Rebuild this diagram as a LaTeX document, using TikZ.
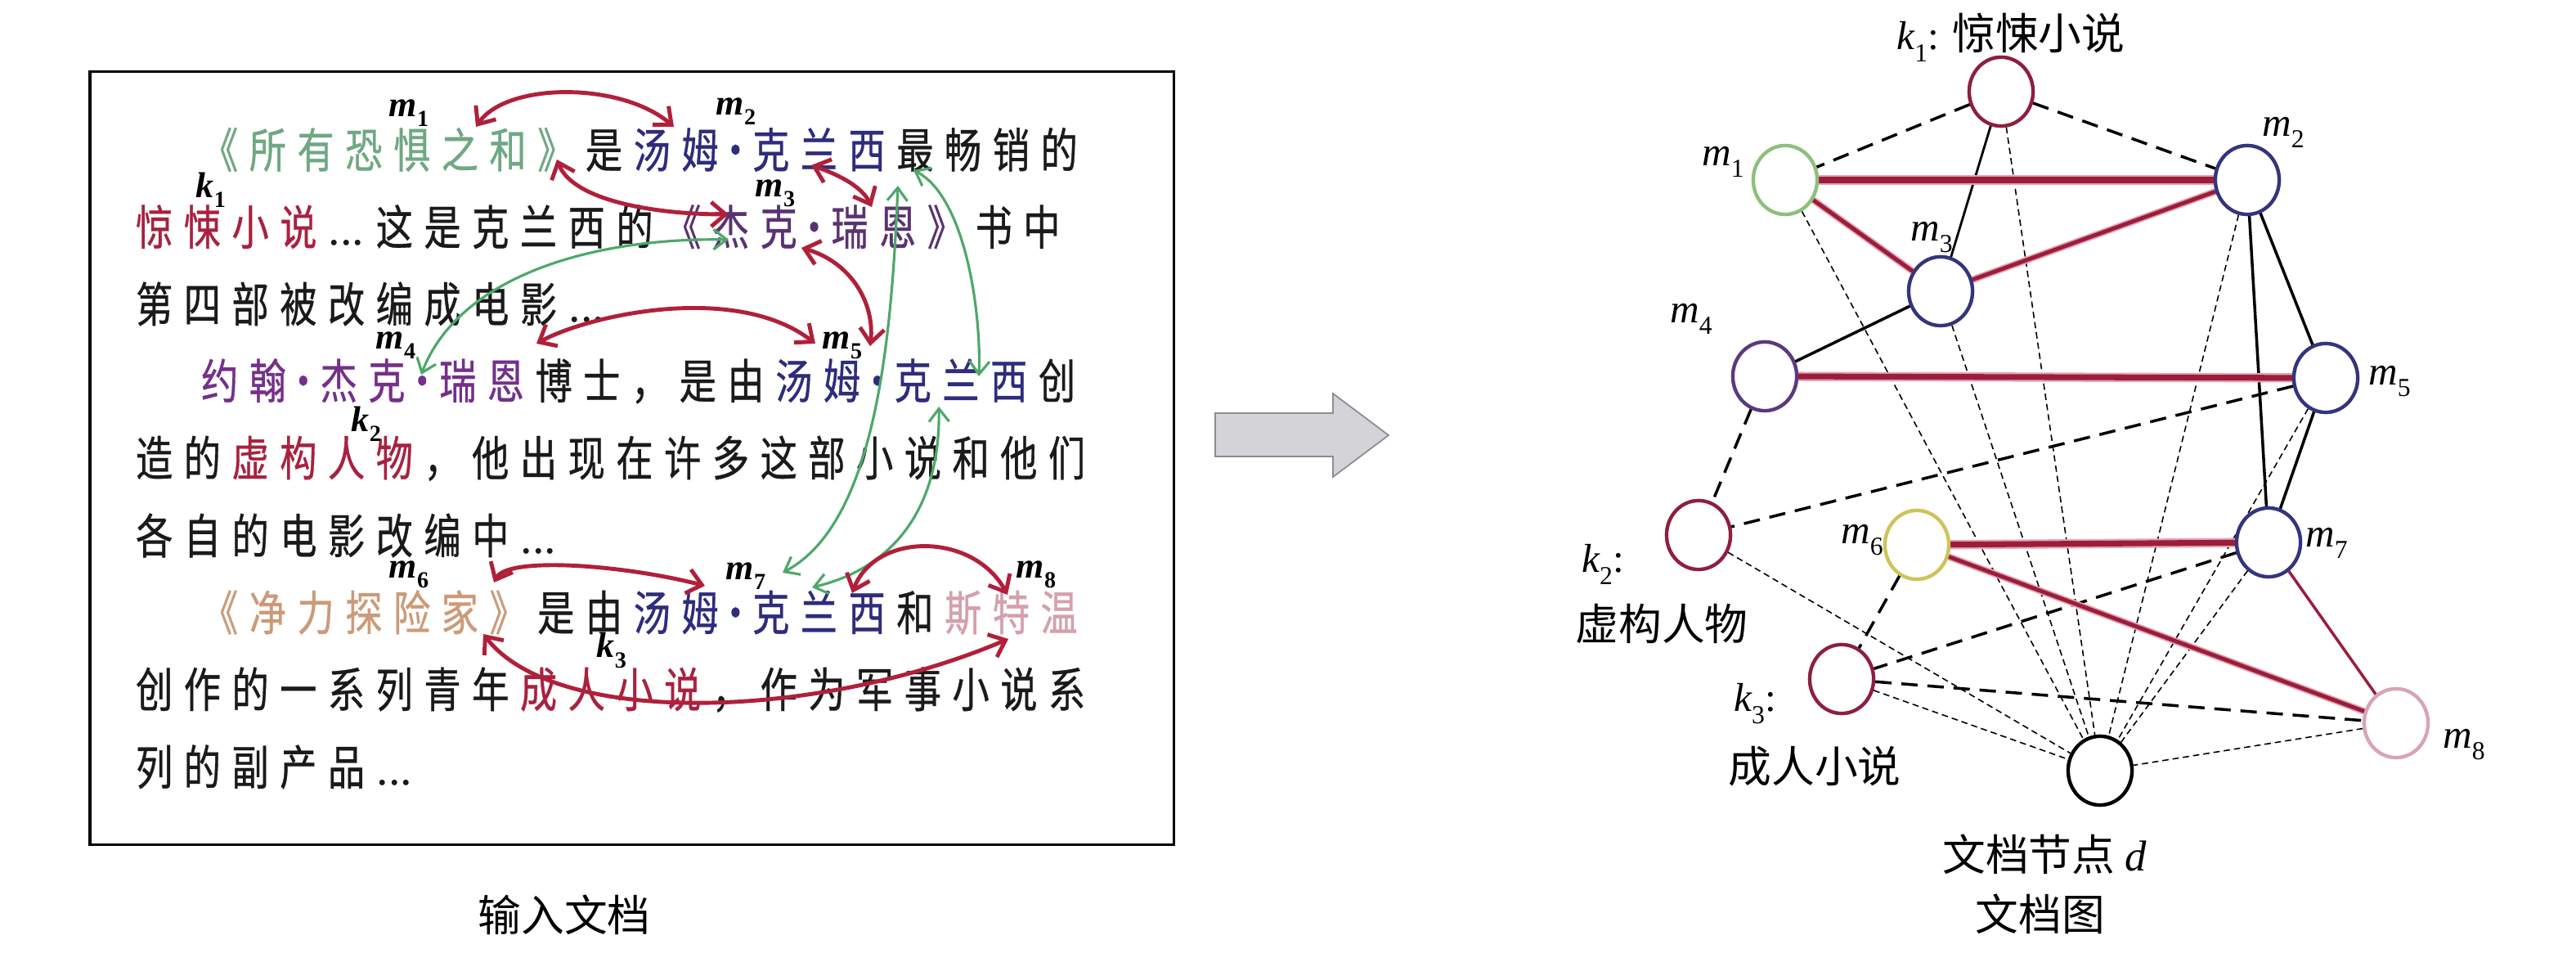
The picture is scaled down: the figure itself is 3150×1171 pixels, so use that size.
\documentclass[tikz,border=0pt]{standalone}
\usepackage{fontspec}
\usetikzlibrary{arrows.meta,shapes.geometric}
\setmainfont{Liberation Serif}
\newfontfamily\cjk[FakeStretch=0.78,FakeBold=0.6]{Noto Sans CJK SC}
\newfontfamily\cjkr{Noto Sans CJK SC}
\definecolor{tgreen}{HTML}{6FA882}
\definecolor{tnavy}{HTML}{2E2C7C}
\definecolor{tred}{HTML}{A8223F}
\definecolor{tpurp}{HTML}{5A3272}
\definecolor{tpurp2}{HTML}{74308A}
\definecolor{torange}{HTML}{CC9A78}
\definecolor{tpink}{HTML}{D4A0AC}
\definecolor{tblack}{HTML}{1A1A1A}
\definecolor{arred}{HTML}{B0203A}
\definecolor{argreen}{HTML}{4EA86A}
\definecolor{edgered}{HTML}{9A1E3C}
\definecolor{edgeglow}{HTML}{E8A0B0}
\definecolor{cred}{HTML}{8E1F3E}
\definecolor{cgreen}{HTML}{8CC07C}
\definecolor{cnavy}{HTML}{34347E}
\definecolor{cpurple}{HTML}{5A3A7E}
\definecolor{cyellow}{HTML}{CCC45A}
\definecolor{cpink}{HTML}{D8A4B4}
\definecolor{agray}{HTML}{D4D4D8}
\definecolor{agrayd}{HTML}{8C8C92}
\newlength\pitch \setlength\pitch{0.587cm}
\newlength\dotw \setlength\dotw{0.28cm}
\makeatletter
\def\gdot{·}
\def\gell{…}
\def\gridchar{\ifx\gx\gdot\makebox[\dotw]{·}\else\ifx\gx\gell\makebox[\pitch]{\rmfamily ...}\else\makebox[\pitch]{\gx}\fi\fi}
\newcommand\gt[1]{\@tfor\gx:=#1\do{\gridchar}}
\makeatother
\newcommand\lbl[2]{{\bfseries\itshape #1}\raisebox{-0.28em}{\fontsize{8}{8}\selectfont\bfseries #2}}
\newcommand\rl[2]{{\itshape #1}\raisebox{-0.3em}{\fontsize{9}{9}\selectfont #2}}
\begin{document}
\begin{tikzpicture}[x=0.01cm,y=-0.01cm,
  txt/.style={anchor=west,inner sep=0pt,text=tblack,font=\cjk\fontsize{16.5}{17}\selectfont},
  lab/.style={inner sep=0pt,font=\fontsize{12.5}{13}\selectfont},
  rarr/.style={draw=arred,line width=1.4pt,{Straight Barb[length=5pt,width=8.5pt]}-{Straight Barb[length=5pt,width=8.5pt]}},
  garr/.style={draw=argreen,line width=0.9pt,{Straight Barb[length=4.5pt,width=7pt]}-{Straight Barb[length=4.5pt,width=7pt]}},
  gnode/.style={ellipse,draw,line width=1.2pt,fill=white,minimum width=0.78cm,minimum height=0.84cm,inner sep=0pt},
  glab/.style={inner sep=0pt,font=\fontsize{14}{14}\selectfont},
  clab/.style={inner sep=0pt,font=\cjkr\fontsize{15}{16}\selectfont},
  redthick/.style={preaction={draw=edgeglow,line width=3.2pt},draw=edgered,line width=2pt},
  redmed/.style={preaction={draw=edgeglow,line width=2.4pt},draw=edgered,line width=1.4pt},
  redthin/.style={draw=edgered,line width=1pt},
  blk/.style={draw=black,line width=1pt},
  ldash/.style={draw=black,line width=1pt,dash pattern=on 5.7pt off 3.4pt},
  sdash/.style={draw=black,line width=0.45pt,dash pattern=on 2.2pt off 1.4pt}]
\path[use as bounding box] (0,0) rectangle (3150,1171);

% ---------- left: input document ----------
\node[draw=black,line width=1pt,minimum width=13.25cm,minimum height=9.44cm,anchor=north west,inner sep=0pt] (box) at (108,86) {};

\node[txt] (l1) at (238.6,183) {{\color{tgreen}\gt{《所有恐惧之和》}}\gt{是}{\color{tnavy}\gt{汤姆·克兰西}}\gt{最畅销的}};
\node[txt] (l2) at (158.6,277.3) {{\color{tred}\gt{惊悚小说}}\gt{…这是克兰西的}{\color{tpurp}\gt{《杰克·瑞恩》}}\gt{书中}};
\node[txt] (l3) at (158.6,371.6) {\gt{第四部被改编成电影…}};
\node[txt] (l4) at (238.6,465.9) {{\color{tpurp2}\gt{约翰·杰克·瑞恩}}\gt{博士，是由}{\color{tnavy}\gt{汤姆·克兰西}}\gt{创}};
\node[txt] (l5) at (158.6,560.2) {\gt{造的}{\color{tred}\gt{虚构人物}}\gt{，他出现在许多这部小说和他们}};
\node[txt] (l6) at (158.6,654.5) {\gt{各自的电影改编中…}};
\node[txt] (l7) at (238.6,748.8) {{\color{torange}\gt{《净力探险家》}}\gt{是由}{\color{tnavy}\gt{汤姆·克兰西}}\gt{和}{\color{tpink}\gt{斯特温}}};
\node[txt] (l8) at (158.6,843.1) {\gt{创作的一系列青年}{\color{tred}\gt{成人小说}}\gt{，作为军事小说系}};
\node[txt] (l9) at (158.6,937.4) {\gt{列的副产品…}};

\node[lab] (tm1) at (500,138) {\lbl{m}{1}};
\node[lab] (tk1) at (258,232) {\lbl{k}{1}};
\node[lab] (tm2) at (900,136) {\lbl{m}{2}};
\node[lab] (tm3) at (948,236) {\lbl{m}{3}};
\node[lab] (tm4) at (484,422) {\lbl{m}{4}};
\node[lab] (tm5) at (1030,422) {\lbl{m}{5}};
\node[lab] (tk2) at (448,518) {\lbl{k}{2}};
\node[lab] (tm6) at (500,702) {\lbl{m}{6}};
\node[lab] (tm7) at (912,704) {\lbl{m}{7}};
\node[lab] (tm8) at (1267,702) {\lbl{m}{8}};
\node[lab] (tk3) at (748,795) {\lbl{k}{3}};

% arrow end points
\coordinate (r1a) at (582,155); \coordinate (r1b) at (824,155);
\coordinate (r2a) at (681,195); \coordinate (r2b) at (891,262);
\coordinate (r3a) at (992,202); \coordinate (r3b) at (1066,253);
\coordinate (r4a) at (980,303); \coordinate (r4b) at (1064,423);
\coordinate (r5a) at (656,420); \coordinate (r5b) at (997,420);
\coordinate (r6a) at (604,712); \coordinate (r6b) at (862,716);
\coordinate (r7a) at (1042,725); \coordinate (r7b) at (1232,727);
\coordinate (r8a) at (591,775); \coordinate (r8b) at (1233,781);
\coordinate (g1a) at (891,293); \coordinate (g1b) at (515,458);
\coordinate (g2a) at (1117,208); \coordinate (g2b) at (1197,460);
\coordinate (g3a) at (1098,227); \coordinate (g3b) at (957,700);
\coordinate (g4a) at (1148,497); \coordinate (g4b) at (993,718);

\draw[garr] (g1a) .. controls (720,290) and (560,340) .. (g1b);
\draw[garr] (g2a) .. controls (1180,240) and (1200,380) .. (g2b);
\draw[garr] (g3a) .. controls (1090,420) and (1070,640) .. (g3b);
\draw[garr] (g4a) .. controls (1150,600) and (1110,690) .. (g4b);

\draw[rarr] (r1a) .. controls (620,100) and (760,100) .. (r1b);
\draw[rarr] (r2a) .. controls (700,245) and (800,262) .. (r2b);
\draw[rarr] (r3a) .. controls (1030,215) and (1055,230) .. (r3b);
\draw[rarr] (r4a) .. controls (1040,320) and (1070,370) .. (r4b);
\draw[rarr] (r5a) .. controls (720,385) and (900,345) .. (r5b);
\draw[rarr] (r6a) .. controls (620,680) and (760,690) .. (r6b);
\draw[rarr] (r7a) .. controls (1070,650) and (1190,650) .. (r7b);
\draw[rarr] (r8a) .. controls (680,890) and (1000,880) .. (r8b);

\node[clab] (cap1) at (690,1118) {输入文档};

% ---------- middle arrow ----------
\draw[fill=agray,draw=agrayd,line width=0.5pt] (1486,505) -- (1630,505) -- (1630,481) -- (1698,532) -- (1630,583) -- (1630,558) -- (1486,558) -- cycle;

% ---------- right: document graph ----------
\node[gnode,draw=cred] (k1) at (2447,112) {};
\node[gnode,draw=cgreen] (m1) at (2183,220) {};
\node[gnode,draw=cnavy] (m2) at (2748,220) {};
\node[gnode,draw=cnavy] (m3) at (2373,356) {};
\node[gnode,draw=cpurple] (m4) at (2158,460) {};
\node[gnode,draw=cnavy] (m5) at (2844,462) {};
\node[gnode,draw=cred] (k2) at (2077,654) {};
\node[gnode,draw=cyellow] (m6) at (2344,666) {};
\node[gnode,draw=cnavy] (m7) at (2774,663) {};
\node[gnode,draw=cred] (k3) at (2252,830) {};
\node[gnode,draw=cpink] (m8) at (2930,884) {};
\node[gnode,draw=black] (d) at (2568,942) {};

% thin dashed to document node
\foreach \n in {k1,m1,m2,m3,m5,m7,k2,k3,m8} \draw[sdash] (\n) -- (d);
% long dashed
\draw[ldash] (k1) -- (m1);
\draw[ldash] (k1) -- (m2);
\draw[ldash] (m4) -- (k2);
\draw[ldash] (m5) -- (k2);
\draw[ldash] (m6) -- (k3);
\draw[ldash] (m7) -- (k3);
\draw[ldash] (k3) -- (m8);
% solid black
\draw[blk,line width=0.8pt] (k1) -- (m3);
\draw[blk] (m2) -- (m5);
\draw[blk] (m2) -- (m7);
\draw[blk] (m3) -- (m4);
\draw[blk] (m5) -- (m7);
% red
\draw[redthick] (m1) -- (m2);
\draw[redmed] (m1) -- (m3);
\draw[redmed] (m2) -- (m3);
\draw[redthick] (m4) -- (m5);
\draw[redthick] (m6) -- (m7);
\draw[redmed] (m6) -- (m8);
\draw[redthin] (m7) -- (m8);

% redraw circles on top
\foreach \n/\c in {k1/cred,m1/cgreen,m2/cnavy,m3/cnavy,m4/cpurple,m5/cnavy,k2/cred,m6/cyellow,m7/cnavy,k3/cred,m8/cpink,d/black}
  \draw[draw=\c,line width=1.2pt,fill=white] (\n.center) ellipse [x radius=0.39cm,y radius=0.42cm];

% labels
\node[glab] (lk1) at (2459,46) {\rl{k}{1}: {\cjkr\fontsize{15}{16}\selectfont 惊悚小说}};
\node[glab] (lm1) at (2107,198) {\rl{m}{1}};
\node[glab] (lm2) at (2792,162) {\rl{m}{2}};
\node[glab] (lm3) at (2362,290) {\rl{m}{3}};
\node[glab] (lm4) at (2068,390) {\rl{m}{4}};
\node[glab] (lm5) at (2922,466) {\rl{m}{5}};
\node[glab] (lk2) at (1960,690) {\rl{k}{2}:};
\node[clab] (lk2t) at (2032,762) {虚构人物};
\node[glab] (lm6) at (2277,660) {\rl{m}{6}};
\node[glab] (lm7) at (2845,664) {\rl{m}{7}};
\node[glab] (lk3) at (2146,860) {\rl{k}{3}:};
\node[clab] (lk3t) at (2219,937) {成人小说};
\node[glab] (lm8) at (3013,910) {\rl{m}{8}};
\node[clab] (ld) at (2500,1044) {文档节点 {\rmfamily\itshape\fontsize{15}{16}\selectfont d}};
\node[clab] (cap2) at (2495,1117) {文档图};
\end{tikzpicture}
\end{document}
